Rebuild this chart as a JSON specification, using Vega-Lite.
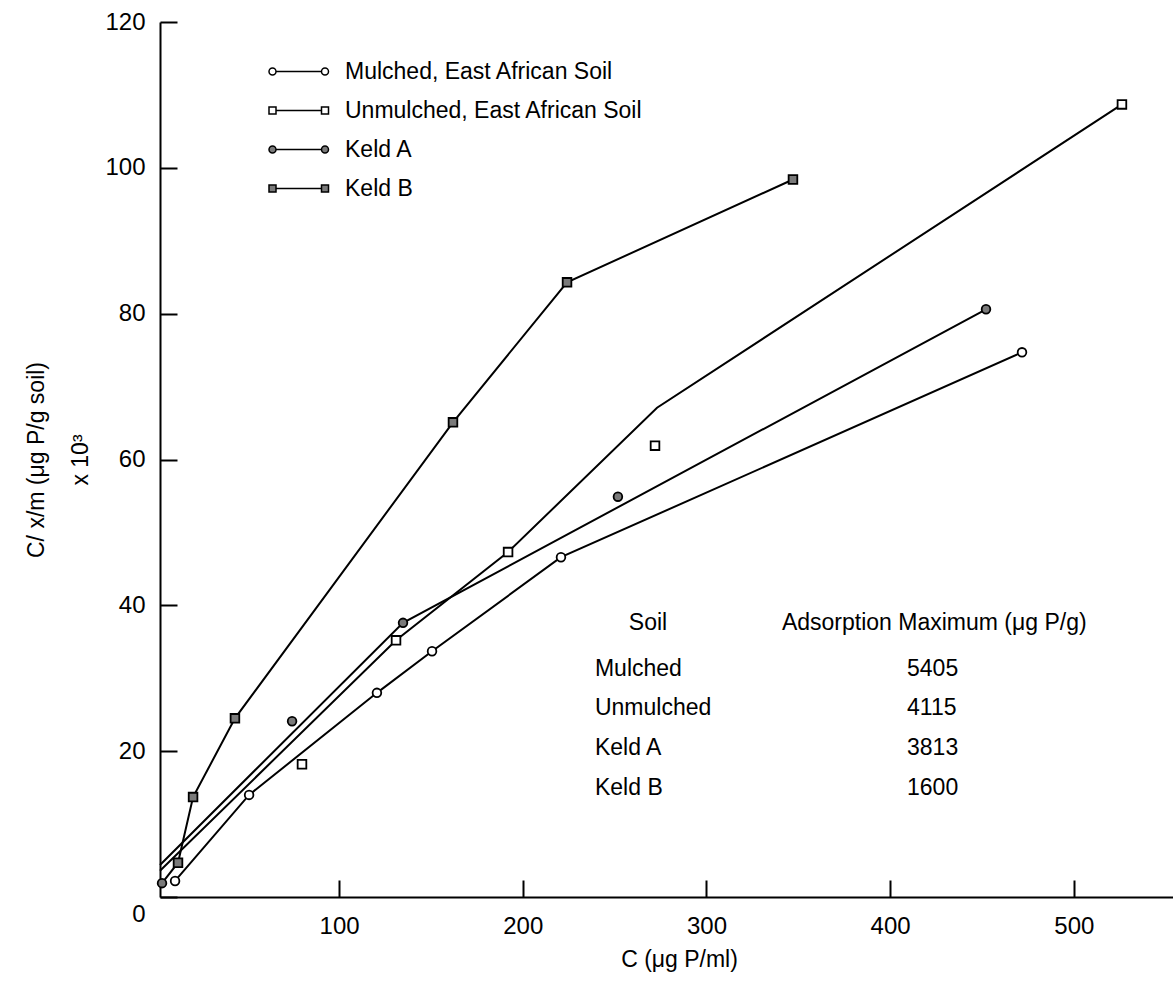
{
  "$schema": "https://vega.github.io/schema/vega-lite/v6.json",
  "width": 1013,
  "height": 875,
  "autosize": {"type": "none"},
  "padding": {"left": 160, "top": 22, "right": 0, "bottom": 87},
  "background": "white",
  "config": {
    "view": {"stroke": null},
    "font": "Liberation Sans",
    "axis": {
      "domainColor": "black", "domainWidth": 2, "tickColor": "black", "tickWidth": 2,
      "grid": false, "labelColor": "black", "titleColor": "black",
      "labelFontSize": 24, "titleFontSize": 23, "titleFontWeight": "normal",
      "labelFont": "Liberation Sans", "titleFont": "Liberation Sans"
    }
  },
  "datasets": {
    "points": [
      {"series": "Mulched, East African Soil", "c": 10.7, "q": 2.2},
      {"series": "Mulched, East African Soil", "c": 51.0, "q": 14.0},
      {"series": "Mulched, East African Soil", "c": 120.6, "q": 28.0},
      {"series": "Mulched, East African Soil", "c": 150.6, "q": 33.7},
      {"series": "Mulched, East African Soil", "c": 220.8, "q": 46.6},
      {"series": "Mulched, East African Soil", "c": 471.8, "q": 74.7},
      {"series": "Unmulched, East African Soil", "c": 79.8, "q": 18.2},
      {"series": "Unmulched, East African Soil", "c": 131.0, "q": 35.2},
      {"series": "Unmulched, East African Soil", "c": 192.0, "q": 47.3},
      {"series": "Unmulched, East African Soil", "c": 272.0, "q": 61.9},
      {"series": "Unmulched, East African Soil", "c": 526.2, "q": 108.7},
      {"series": "Keld A", "c": 3.6, "q": 1.9},
      {"series": "Keld A", "c": 74.4, "q": 24.1},
      {"series": "Keld A", "c": 134.8, "q": 37.6},
      {"series": "Keld A", "c": 251.8, "q": 54.9},
      {"series": "Keld A", "c": 452.2, "q": 80.6},
      {"series": "Keld B", "c": 12.3, "q": 4.7},
      {"series": "Keld B", "c": 20.5, "q": 13.7},
      {"series": "Keld B", "c": 43.3, "q": 24.5},
      {"series": "Keld B", "c": 162.0, "q": 65.1},
      {"series": "Keld B", "c": 224.1, "q": 84.3},
      {"series": "Keld B", "c": 347.1, "q": 98.4}
    ],
    "lines": [
      {"series": "Mulched, East African Soil", "c": 10.7, "q": 2.2},
      {"series": "Mulched, East African Soil", "c": 51.0, "q": 14.0},
      {"series": "Mulched, East African Soil", "c": 120.6, "q": 28.0},
      {"series": "Mulched, East African Soil", "c": 150.6, "q": 33.7},
      {"series": "Mulched, East African Soil", "c": 220.8, "q": 46.6},
      {"series": "Mulched, East African Soil", "c": 471.8, "q": 74.7},
      {"series": "Unmulched, East African Soil", "c": 2.5, "q": 3.6},
      {"series": "Unmulched, East African Soil", "c": 131.0, "q": 35.2},
      {"series": "Unmulched, East African Soil", "c": 192.0, "q": 47.3},
      {"series": "Unmulched, East African Soil", "c": 273.1, "q": 67.1},
      {"series": "Unmulched, East African Soil", "c": 526.2, "q": 108.7},
      {"series": "Keld A", "c": 2.5, "q": 4.4},
      {"series": "Keld A", "c": 134.8, "q": 37.6},
      {"series": "Keld A", "c": 452.2, "q": 80.6},
      {"series": "Keld B", "c": 3.6, "q": 1.9},
      {"series": "Keld B", "c": 12.3, "q": 4.7},
      {"series": "Keld B", "c": 20.5, "q": 13.7},
      {"series": "Keld B", "c": 43.3, "q": 24.5},
      {"series": "Keld B", "c": 162.0, "q": 65.1},
      {"series": "Keld B", "c": 224.1, "q": 84.3},
      {"series": "Keld B", "c": 347.1, "q": 98.4}
    ],
    "notes": [
      {"kind": "head", "c": 268.2, "q": 37.6, "t": "Soil"},
      {"kind": "left", "c": 341.1, "q": 37.6, "t": "Adsorption  Maximum (μg P/g)"},
      {"kind": "left", "c": 239.3, "q": 31.3, "t": "Mulched"},
      {"kind": "left", "c": 239.3, "q": 25.9, "t": "Unmulched"},
      {"kind": "left", "c": 239.3, "q": 20.4, "t": "Keld  A"},
      {"kind": "left", "c": 239.3, "q": 14.9, "t": "Keld  B"},
      {"kind": "left", "c": 409.2, "q": 31.3, "t": "5405"},
      {"kind": "left", "c": 409.2, "q": 25.9, "t": "4115"},
      {"kind": "left", "c": 409.2, "q": 20.4, "t": "3813"},
      {"kind": "left", "c": 409.2, "q": 14.9, "t": "1600"}
    ]
  },
  "resolve": {"scale": {"shape": "independent"}, "legend": {"shape": "independent"}},
  "layer": [
    {
      "data": {"name": "lines"},
      "mark": {"type": "line", "color": "black", "strokeWidth": 2},
      "encoding": {
        "x": {
          "field": "c", "type": "quantitative",
          "scale": {"domain": [2.5, 554], "nice": false, "zero": false},
          "axis": {
            "values": [100, 200, 300, 400, 500],
            "tickSize": -17, "labelPadding": 34,
            "title": "C  (μg P/ml)", "titlePadding": 10,
            "titleX": 519, "titleAlign": "center"
          }
        },
        "y": {
          "field": "q", "type": "quantitative",
          "scale": {"domain": [0, 120], "nice": false},
          "axis": {
            "values": [0, 20, 40, 60, 80, 100, 120],
            "tickSize": -17, "labelPadding": 32,
            "labelOffset": {"condition": {"test": "datum.value === 0", "value": 17}, "value": 0},
            "title": ["C/ x/m (μg P/g soil)", "x 10³"],
            "titleLineHeight": 44, "titlePadding": 12
          }
        },
        "detail": {"field": "series"}
      }
    },
    {
      "data": {"name": "points"},
      "transform": [{"filter": "indexof(['Mulched, East African Soil','Unmulched, East African Soil'], datum.series) >= 0"}],
      "mark": {"type": "point", "filled": false, "size": 0, "stroke": "black", "strokeWidth": 1.5, "opacity": 1},
      "encoding": {
        "x": {"field": "c", "type": "quantitative"},
        "y": {"field": "q", "type": "quantitative"},
        "shape": {
          "field": "series", "type": "nominal",
          "scale": {
            "domain": ["Mulched, East African Soil", "Unmulched, East African Soil"],
            "range": [
              "M -1,0 A 1,1 0 1,1 1,0 A 1,1 0 1,1 -1,0 Z M 1,0 L 14,0 M 14,0 A 1,1 0 1,1 16,0 A 1,1 0 1,1 14,0 Z",
              "M -1,-1 L 1,-1 L 1,1 L -1,1 Z M 1,0 L 14,0 M 14,-1 L 16,-1 L 16,1 L 14,1 Z"
            ]
          },
          "legend": {
            "orient": "none", "legendX": 101, "legendY": 38, "title": null,
            "labelFontSize": 23, "labelColor": "black", "labelOffset": 61, "labelLimit": 0,
            "symbolSize": 49, "rowPadding": 15
          }
        }
      }
    },
    {
      "data": {"name": "points"},
      "transform": [{"filter": "indexof(['Keld A','Keld B'], datum.series) >= 0"}],
      "mark": {"type": "point", "filled": true, "fill": "#7a7a7a", "size": 0, "stroke": "black", "strokeWidth": 1.5, "opacity": 1},
      "encoding": {
        "x": {"field": "c", "type": "quantitative"},
        "y": {"field": "q", "type": "quantitative"},
        "shape": {
          "field": "series", "type": "nominal",
          "scale": {
            "domain": ["Keld A", "Keld B"],
            "range": [
              "M -1,0 A 1,1 0 1,1 1,0 A 1,1 0 1,1 -1,0 Z M 1,0 L 14,0 M 14,0 A 1,1 0 1,1 16,0 A 1,1 0 1,1 14,0 Z",
              "M -1,-1 L 1,-1 L 1,1 L -1,1 Z M 1,0 L 14,0 M 14,-1 L 16,-1 L 16,1 L 14,1 Z"
            ]
          },
          "legend": {
            "orient": "none", "legendX": 101, "legendY": 116, "title": null,
            "labelFontSize": 23, "labelColor": "black", "labelOffset": 61, "labelLimit": 0,
            "symbolSize": 49, "rowPadding": 15
          }
        }
      }
    },
    {
      "data": {"name": "points"},
      "mark": {"type": "point", "filled": true, "size": 75, "stroke": "black", "strokeWidth": 1.8, "opacity": 1},
      "encoding": {
        "x": {"field": "c", "type": "quantitative"},
        "y": {"field": "q", "type": "quantitative"},
        "shape": {
          "field": "series", "type": "nominal",
          "scale": {
            "domain": ["Mulched, East African Soil", "Unmulched, East African Soil", "Keld A", "Keld B"],
            "range": ["circle", "square", "circle", "square"]
          },
          "legend": null
        },
        "fill": {
          "field": "series", "type": "nominal",
          "scale": {
            "domain": ["Mulched, East African Soil", "Unmulched, East African Soil", "Keld A", "Keld B"],
            "range": ["white", "white", "#7a7a7a", "#7a7a7a"]
          },
          "legend": null
        }
      }
    },
    {
      "data": {"name": "notes"},
      "transform": [{"filter": "datum.kind === 'head'"}],
      "mark": {"type": "text", "align": "center", "baseline": "middle", "fontSize": 23, "color": "black"},
      "encoding": {
        "x": {"field": "c", "type": "quantitative"},
        "y": {"field": "q", "type": "quantitative"},
        "text": {"field": "t"}
      }
    },
    {
      "data": {"name": "notes"},
      "transform": [{"filter": "datum.kind === 'left'"}],
      "mark": {"type": "text", "align": "left", "baseline": "middle", "fontSize": 23, "color": "black"},
      "encoding": {
        "x": {"field": "c", "type": "quantitative"},
        "y": {"field": "q", "type": "quantitative"},
        "text": {"field": "t"}
      }
    }
  ]
}
